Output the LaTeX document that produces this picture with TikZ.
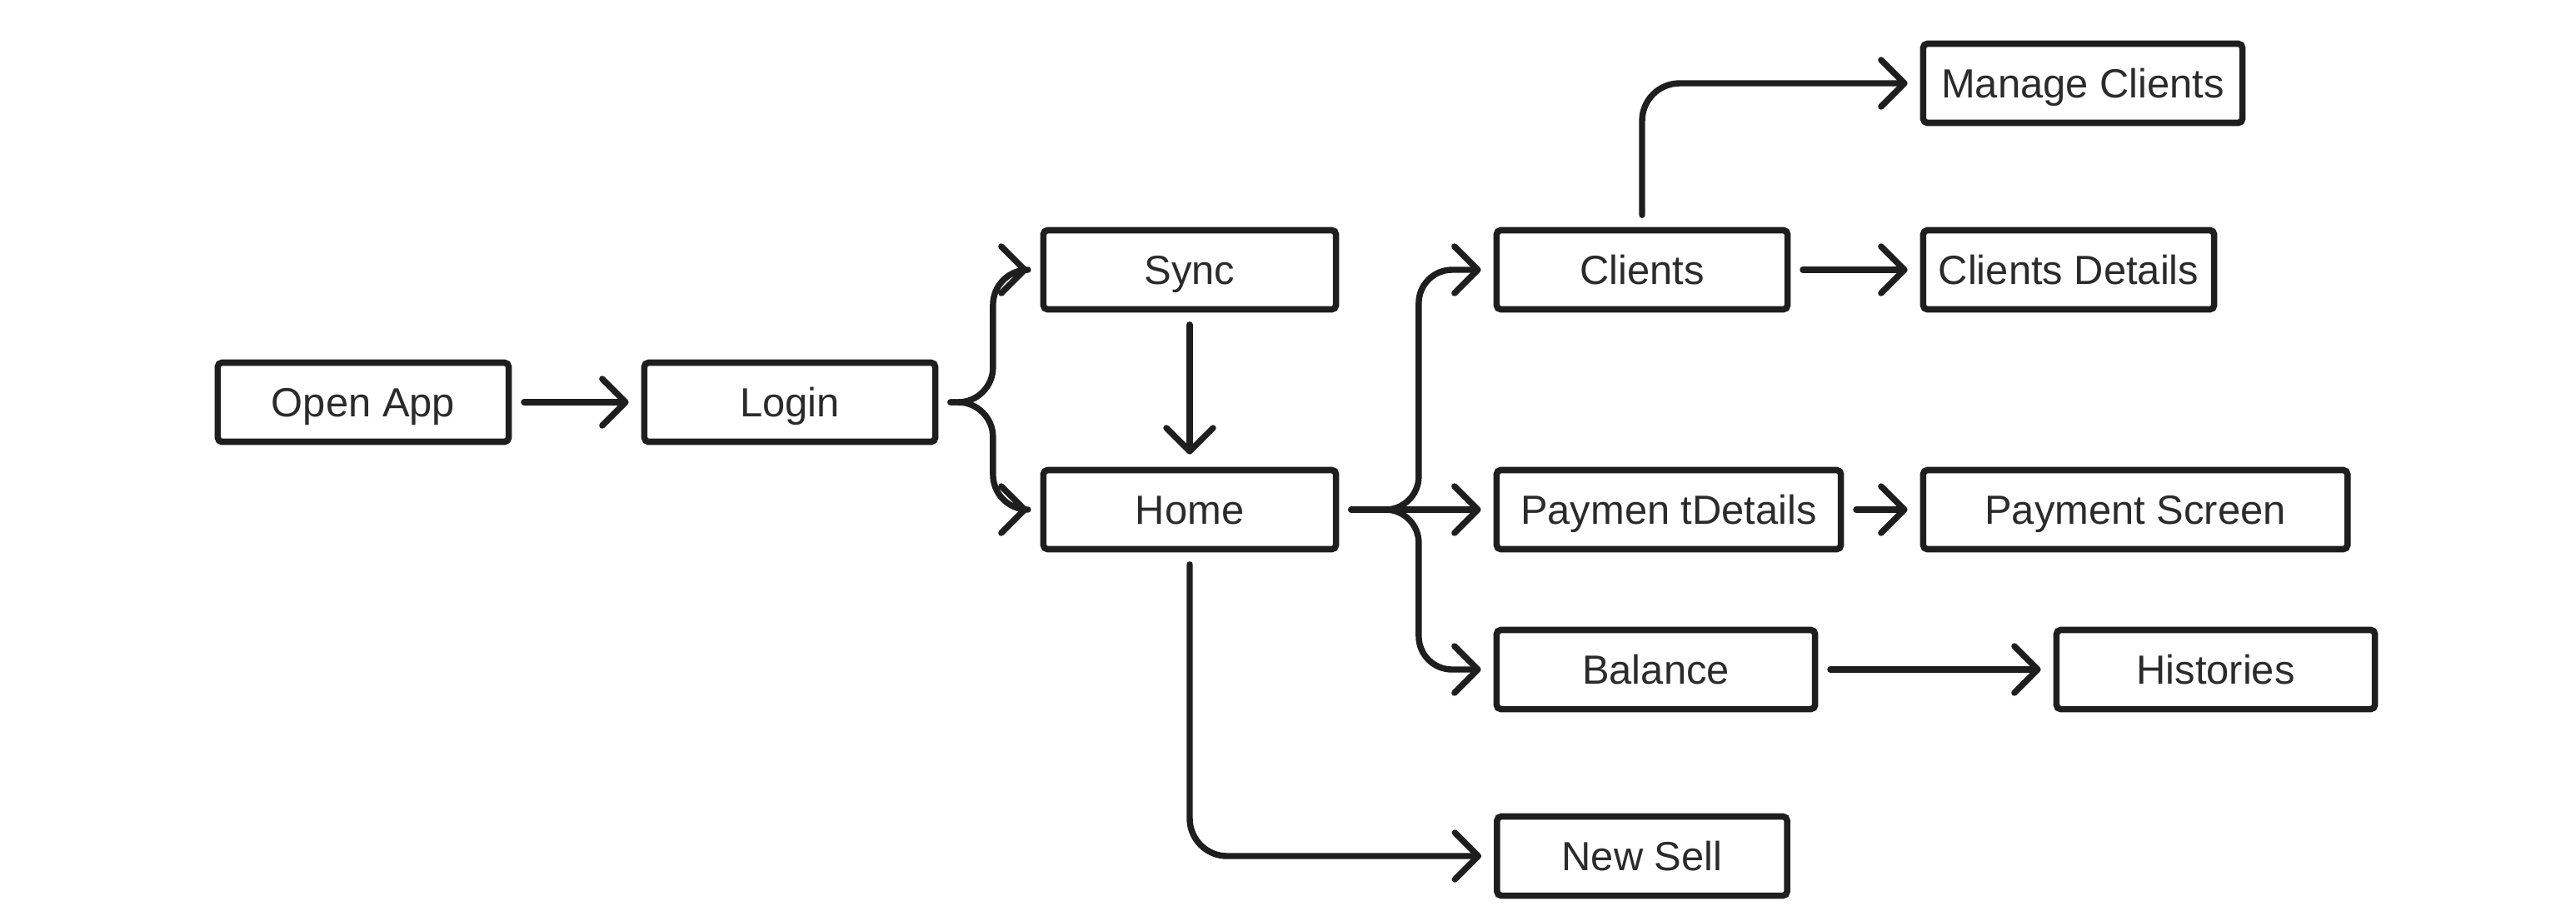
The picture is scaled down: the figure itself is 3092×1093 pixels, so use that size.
\documentclass[tikz,border=0pt]{standalone}
\usepackage{fontspec}
\setmainfont{Liberation Sans}
\usetikzlibrary{arrows.meta}
\definecolor{ink}{HTML}{1E1E1E}
\definecolor{label}{HTML}{2B2B2B}
\begin{document}
\begin{tikzpicture}[x=0.01cm, y=-0.01cm]
\tikzstyle{screen}=[draw=ink, line width=0.076cm, rounded corners=0.05cm, minimum height=0.95cm, inner sep=0pt, text=label, text height=0.35cm, text depth=0cm, font=\fontsize{13.9}{16}\selectfont]
\tikzstyle{flow}=[draw=ink, line width=0.074cm, line cap=round, line join=round, -{Straight Barb[length=0.28cm, width=0.56cm, line cap=round, line join=round]}, shorten <=0.145cm, shorten >=0.15cm]
\useasboundingbox (0,0) rectangle (3092,1093);
% screens
\node[screen, minimum width=3.49cm] (open) at (436,483) {Open App};
\node[screen, minimum width=3.49cm] (login) at (948,483) {Login};
\node[screen, minimum width=3.51cm] (sync) at (1428,324) {Sync};
\node[screen, minimum width=3.51cm] (home) at (1428,612) {Home};
\node[screen, minimum width=3.49cm] (clients) at (1971,324) {Clients};
\node[screen, minimum width=3.83cm] (manage) at (2500,100) {Manage Clients};
\node[screen, minimum width=3.49cm] (cdetails) at (2483,324) {Clients Details};
\node[screen, minimum width=4.13cm] (paydet) at (2003,612) {Paymen tDetails};
\node[screen, minimum width=5.09cm] (payscr) at (2563,612) {Payment Screen};
\node[screen, minimum width=3.82cm] (balance) at (1987.5,804) {Balance};
\node[screen, minimum width=3.82cm] (hist) at (2659.5,804) {Histories};
\node[screen, minimum width=3.48cm] (newsell) at (1971,1028) {New Sell};
% flows
\draw[flow] (open) -- (login);
\draw[flow, rounded corners=0.42cm] (login.east) -- ++(65.5,0) |- (sync.west);
\draw[flow, rounded corners=0.42cm] (login.east) -- ++(65.5,0) |- (home.west);
\draw[flow] (sync) -- (home);
\draw[flow, rounded corners=0.4cm] (home.east) -- ++(95.5,0) |- (clients.west);
\draw[flow] (home) -- (paydet);
\draw[flow, rounded corners=0.4cm] (home.east) -- ++(95.5,0) |- (balance.west);
\draw[flow, rounded corners=0.45cm] (home.south) |- (newsell.west);
\draw[flow, rounded corners=0.45cm] (clients.north) |- (manage.west);
\draw[flow] (clients) -- (cdetails);
\draw[flow] (paydet) -- (payscr);
\draw[flow] (balance) -- (hist);
\end{tikzpicture}
\end{document}
